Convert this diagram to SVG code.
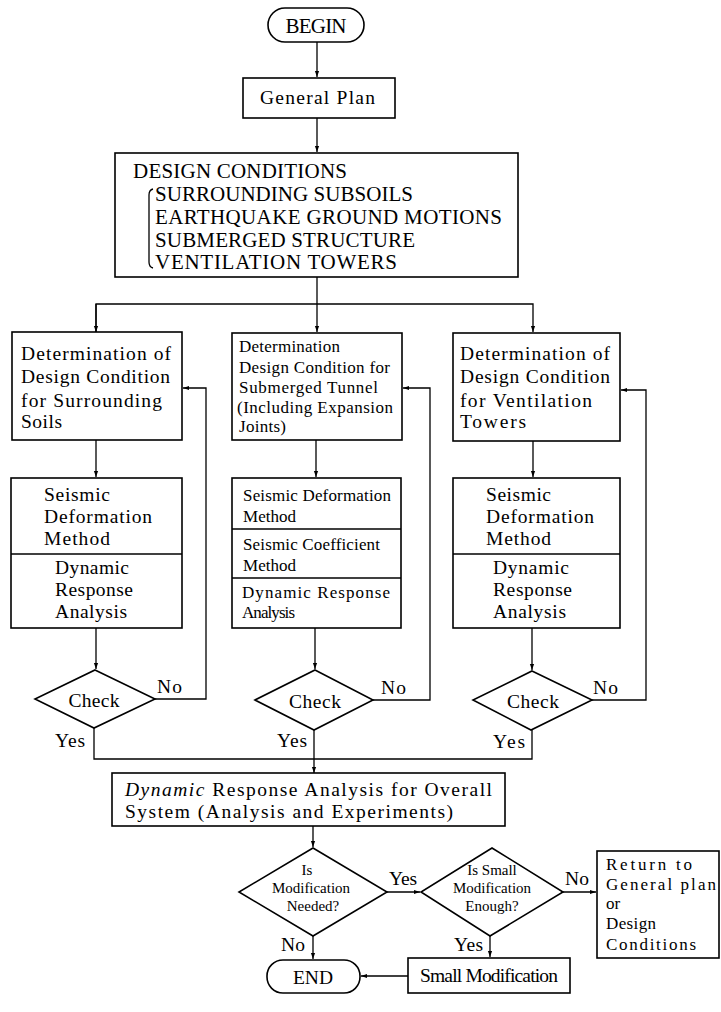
<svg xmlns="http://www.w3.org/2000/svg" width="721" height="1012" viewBox="0 0 721 1012">
  <style>
    .box { fill: #ffffff; stroke: #000000; stroke-width: 1.6; }
    .ln { fill: none; stroke: #000000; stroke-width: 1.3; }
    .t { font-family: "Liberation Serif", "Times New Roman", serif; font-size: 19.5px; fill: #000000; }
    .tr { font-family: "Liberation Serif", "Times New Roman", serif; font-size: 17px; fill: #000000; }
    .tc { font-family: "Liberation Serif", "Times New Roman", serif; font-size: 17px; fill: #000000; }
    .ts { font-family: "Liberation Serif", "Times New Roman", serif; font-size: 15px; fill: #000000; }
    .tb { font-family: "Liberation Serif", "Times New Roman", serif; font-size: 21px; fill: #000000; }
  </style>
  <defs>
    <marker id="arrow" viewBox="0 0 10 10" refX="10" refY="5" markerWidth="6" markerHeight="8" markerUnits="userSpaceOnUse" orient="auto">
      <path d="M0,1.5 L10,5 L0,8.5 Z" fill="#000000"/>
    </marker>
  </defs>
  <rect width="721" height="1012" fill="#ffffff"/>

  <!-- connectors -->
  <g id="connectors" class="ln">
    <line x1="317" y1="42" x2="317" y2="77" marker-end="url(#arrow)"/>
    <line x1="317" y1="118" x2="317" y2="152" marker-end="url(#arrow)"/>
    <line x1="317" y1="277" x2="317" y2="332" marker-end="url(#arrow)"/>
    <polyline points="96,332 96,304 533,304 533,332" marker-end="url(#arrow)"/>
    <line x1="96" y1="304" x2="96" y2="332" marker-end="url(#arrow)"/>
    <line x1="96" y1="440" x2="96" y2="477" marker-end="url(#arrow)"/>
    <line x1="316" y1="440" x2="316" y2="477" marker-end="url(#arrow)"/>
    <line x1="533" y1="441" x2="533" y2="477" marker-end="url(#arrow)"/>
    <line x1="96" y1="628" x2="96" y2="669" marker-end="url(#arrow)"/>
    <line x1="315" y1="628" x2="315" y2="669" marker-end="url(#arrow)"/>
    <line x1="532" y1="628" x2="532" y2="670" marker-end="url(#arrow)"/>
    <!-- No loops back to the determination boxes -->
    <polyline points="155,699 206,699 206,388 183,388" marker-end="url(#arrow)"/>
    <polyline points="373,700 430,700 430,388 403,388" marker-end="url(#arrow)"/>
    <polyline points="592,700 646,700 646,390 621,390" marker-end="url(#arrow)"/>
    <!-- Yes branches merge -->
    <polyline points="94,728 94,759 532,759 532,730"/>
    <line x1="314" y1="730" x2="314" y2="773" marker-end="url(#arrow)"/>
    <line x1="313" y1="826" x2="313" y2="847" marker-end="url(#arrow)"/>
    <line x1="387" y1="892" x2="420" y2="892" marker-end="url(#arrow)"/>
    <line x1="563" y1="892" x2="596" y2="892" marker-end="url(#arrow)"/>
    <line x1="313" y1="936" x2="313" y2="959" marker-end="url(#arrow)"/>
    <line x1="490" y1="936" x2="490" y2="957" marker-end="url(#arrow)"/>
    <line x1="408" y1="976" x2="361" y2="976" marker-end="url(#arrow)"/>
  </g>

  <g id="begin">
    <rect class="box" x="268" y="8" width="96" height="34" rx="17" ry="17"/>
    <text class="tb" x="316" y="33" text-anchor="middle" textLength="61">BEGIN</text>
  </g>

  <g id="general-plan">
    <rect class="box" x="243" y="78" width="152" height="40"/>
    <text class="t" x="260" y="104" textLength="115">General Plan</text>
  </g>

  <g id="design-conditions">
    <rect class="box" x="115" y="153" width="403" height="124"/>
    <text class="tb" x="133" y="178" textLength="214">DESIGN CONDITIONS</text>
    <path class="ln" d="M153,189 Q149,190 149,195 L149,262 Q149,267 153,268"/>
    <text class="tb" x="155" y="201" textLength="258">SURROUNDING SUBSOILS</text>
    <text class="tb" x="155" y="224" textLength="347">EARTHQUAKE GROUND MOTIONS</text>
    <text class="tb" x="155" y="247" textLength="260">SUBMERGED STRUCTURE</text>
    <text class="tb" x="155" y="269" textLength="242">VENTILATION TOWERS</text>
  </g>

  <g id="soils-condition">
    <rect class="box" x="12" y="332" width="170" height="108"/>
    <text class="t" x="21" y="360" textLength="150">Determination of</text>
    <text class="t" x="21" y="383" textLength="149">Design Condition</text>
    <text class="t" x="21" y="407" textLength="141">for Surrounding</text>
    <text class="t" x="21" y="428" textLength="41">Soils</text>
  </g>

  <g id="tunnel-condition">
    <rect class="box" x="232" y="333" width="170" height="107"/>
    <text class="tc" x="239" y="352" textLength="101">Determination</text>
    <text class="tc" x="239" y="373" textLength="151">Design Condition for</text>
    <text class="tc" x="239" y="393" textLength="139">Submerged Tunnel</text>
    <text class="tc" x="237" y="413" textLength="156">(Including Expansion</text>
    <text class="tc" x="239" y="432" textLength="47">Joints)</text>
  </g>

  <g id="towers-condition">
    <rect class="box" x="453" y="333" width="167" height="108"/>
    <text class="t" x="460" y="360" textLength="150">Determination of</text>
    <text class="t" x="460" y="383" textLength="150">Design Condition</text>
    <text class="t" x="460" y="407" textLength="132">for Ventilation</text>
    <text class="t" x="460" y="428" textLength="66">Towers</text>
  </g>

  <g id="soils-methods">
    <rect class="box" x="11" y="478" width="171" height="150"/>
    <line class="ln" x1="11" y1="554" x2="182" y2="554"/>
    <text class="t" x="44" y="501" textLength="66">Seismic</text>
    <text class="t" x="44" y="523" textLength="108">Deformation</text>
    <text class="t" x="44" y="545" textLength="66">Method</text>
    <text class="t" x="55" y="574" textLength="74">Dynamic</text>
    <text class="t" x="55" y="596" textLength="78">Response</text>
    <text class="t" x="55" y="618" textLength="72">Analysis</text>
  </g>

  <g id="tunnel-methods">
    <rect class="box" x="232" y="478" width="169" height="150"/>
    <line class="ln" x1="232" y1="529" x2="401" y2="529"/>
    <line class="ln" x1="232" y1="578" x2="401" y2="578"/>
    <text class="tc" x="243" y="501" textLength="148">Seismic Deformation</text>
    <text class="tc" x="243" y="522" textLength="53">Method</text>
    <text class="tc" x="243" y="550" textLength="137">Seismic Coefficient</text>
    <text class="tc" x="243" y="571" textLength="53">Method</text>
    <text class="tc" x="242" y="598" textLength="148">Dynamic Response</text>
    <text class="tc" x="242" y="618" textLength="53">Analysis</text>
  </g>

  <g id="towers-methods">
    <rect class="box" x="453" y="478" width="167" height="150"/>
    <line class="ln" x1="453" y1="554" x2="620" y2="554"/>
    <text class="t" x="486" y="501" textLength="65">Seismic</text>
    <text class="t" x="486" y="523" textLength="108">Deformation</text>
    <text class="t" x="486" y="545" textLength="65">Method</text>
    <text class="t" x="493" y="574" textLength="76">Dynamic</text>
    <text class="t" x="493" y="596" textLength="79">Response</text>
    <text class="t" x="493" y="618" textLength="73">Analysis</text>
  </g>

  <g id="check-soils">
    <polygon class="box" points="95,670 155,699 94,728 35,699"/>
    <text class="t" x="94" y="707" text-anchor="middle" textLength="51">Check</text>
    <text class="t" x="157" y="693" textLength="25">No</text>
    <text class="t" x="55" y="747" textLength="30">Yes</text>
  </g>

  <g id="check-tunnel">
    <polygon class="box" points="315,670 373,700 314,730 255,700"/>
    <text class="t" x="315" y="708" text-anchor="middle" textLength="52">Check</text>
    <text class="t" x="381" y="694" textLength="25">No</text>
    <text class="t" x="277" y="747" textLength="30">Yes</text>
  </g>

  <g id="check-towers">
    <polygon class="box" points="532,671 592,700 531,730 473,700"/>
    <text class="t" x="533" y="708" text-anchor="middle" textLength="52">Check</text>
    <text class="t" x="593" y="694" textLength="25">No</text>
    <text class="t" x="493" y="748" textLength="32">Yes</text>
  </g>

  <g id="overall-analysis">
    <rect class="box" x="112" y="773" width="393" height="53"/>
    <text class="t" x="125" y="796" textLength="367"><tspan font-style="italic">Dynamic</tspan> Response Analysis for Overall</text>
    <text class="t" x="125" y="818" textLength="328">System (Analysis and Experiments)</text>
  </g>

  <g id="modification-needed">
    <polygon class="box" points="313,848 387,892 313,936 239,892"/>
    <text class="ts" x="307" y="875" text-anchor="middle">Is</text>
    <text class="ts" x="311" y="893" text-anchor="middle" textLength="78">Modification</text>
    <text class="ts" x="313" y="911" text-anchor="middle">Needed?</text>
    <text class="t" x="389" y="885" textLength="28">Yes</text>
    <text class="t" x="281" y="951" textLength="24">No</text>
  </g>

  <g id="small-enough">
    <polygon class="box" points="492,848 563,892 490,936 421,892"/>
    <text class="ts" x="492" y="875" text-anchor="middle">Is Small</text>
    <text class="ts" x="492" y="893" text-anchor="middle" textLength="78">Modification</text>
    <text class="ts" x="492" y="911" text-anchor="middle">Enough?</text>
    <text class="t" x="565" y="885" textLength="24">No</text>
    <text class="t" x="454" y="951" textLength="29">Yes</text>
  </g>

  <g id="return-box">
    <rect class="box" x="597" y="851" width="122" height="107"/>
    <text class="tr" x="606" y="870" textLength="86">Return to</text>
    <text class="tr" x="606" y="890" textLength="110">General plan</text>
    <text class="tr" x="606" y="909">or</text>
    <text class="tr" x="606" y="929" textLength="50">Design</text>
    <text class="tr" x="606" y="950" textLength="90">Conditions</text>
  </g>

  <g id="small-modification">
    <rect class="box" x="408" y="958" width="162" height="35"/>
    <text class="t" x="489" y="982" text-anchor="middle" textLength="138">Small Modification</text>
  </g>

  <g id="end">
    <rect class="box" x="267" y="960" width="93" height="33" rx="16" ry="16"/>
    <text class="t" x="313" y="984" text-anchor="middle" textLength="40">END</text>
  </g>
</svg>
